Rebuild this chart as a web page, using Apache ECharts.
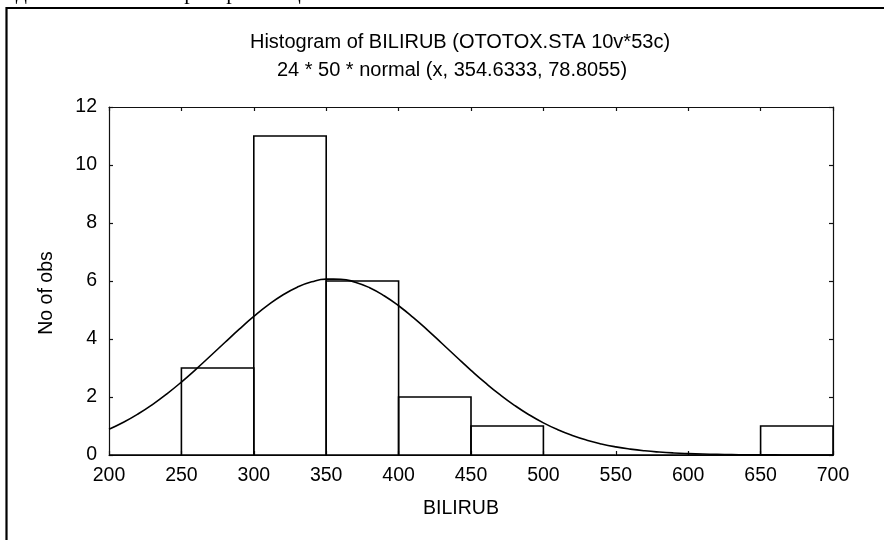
<!DOCTYPE html>
<html>
<head>
<meta charset="utf-8">
<title>Histogram of BILIRUB</title>
<script src="https://cdn.jsdelivr.net/npm/echarts@6/dist/echarts.min.js"></script>
<style>
  html, body { margin: 0; padding: 0; background: #fff; }
  #chart { width: 884px; height: 540px; }
</style>
</head>
<body>
<div id="chart"></div>
<script>
// Histogram bins (lower edges, width 50) and observed counts
const binStarts = [200, 250, 300, 350, 400, 450, 500, 550, 600, 650];
const binWidth = 50;
const counts = [0, 3, 11, 6, 2, 1, 0, 0, 0, 1];

// Expected normal curve 24 * 50 * normal(x, 354.6333, 78.8055), sampled every 10 units
const curveX = [200, 210, 220, 230, 240, 250, 260, 270, 280, 290,
                300, 310, 320, 330, 340, 350, 360, 370, 380, 390,
                400, 410, 420, 430, 440, 450, 460, 470, 480, 490,
                500, 510, 520, 530, 540, 550, 560, 570, 580, 590,
                600, 610, 620, 630, 640, 650, 660, 670, 680, 690, 700];
const curveY = [0.886, 1.127, 1.412, 1.740, 2.109, 2.516, 2.954, 3.413, 3.879, 4.340,
                4.777, 5.175, 5.516, 5.785, 5.971, 6.064, 6.061, 5.960, 5.768, 5.493,
                5.147, 4.746, 4.307, 3.845, 3.379, 2.921, 2.485, 2.080, 1.714, 1.389,
                1.108, 0.870, 0.672, 0.511, 0.382, 0.281, 0.204, 0.145, 0.102, 0.070,
                0.048, 0.032, 0.021, 0.0136, 0.0086, 0.0054, 0.0033, 0.0020, 0.0012, 0.0007, 0.0004];

// Axis ticks
const xTicks = [200, 250, 300, 350, 400, 450, 500, 550, 600, 650, 700];
const yTicks = [0, 2, 4, 6, 8, 10, 12];

const titleLine1 = 'Histogram of BILIRUB (OTOTOX.STA 10v*53c)';
const titleLine2 = '24 * 50 * normal (x, 354.6333, 78.8055)';
const xName = 'BILIRUB';
const yName = 'No of obs';
const pageText = 'ведення обмежень критеріалізації';

const FONT = '"Liberation Sans", Arial, sans-serif';
const INK = '#000';

const chart = echarts.init(document.getElementById('chart'), null, { renderer: 'canvas' });

const frameAxis = (extra) => Object.assign({
  axisLine: { show: true, onZero: false, lineStyle: { color: '#111', width: 1.2 } },
  axisTick: { show: true, inside: true, length: 4, lineStyle: { color: '#111', width: 1.2 } },
  splitLine: { show: false }
}, extra);

const option = {
  animation: false,
  backgroundColor: '#fff',
  grid: { left: 109, right: 51, top: 107, bottom: 85, containLabel: false },
  xAxis: [
    frameAxis({
      type: 'value', position: 'bottom',
      min: xTicks[0], max: xTicks[xTicks.length - 1], interval: 50,
      axisLabel: { color: INK, fontFamily: FONT, fontSize: 19.5, margin: 11 }
    }),
    frameAxis({
      type: 'value', position: 'top',
      min: xTicks[0], max: xTicks[xTicks.length - 1], interval: 50,
      axisLabel: { show: false }
    })
  ],
  yAxis: [
    frameAxis({
      type: 'value', position: 'left',
      min: yTicks[0], max: yTicks[yTicks.length - 1], interval: 2,
      axisLabel: { color: INK, fontFamily: FONT, fontSize: 19.5, margin: 12 }
    }),
    frameAxis({
      type: 'value', position: 'right',
      min: yTicks[0], max: yTicks[yTicks.length - 1], interval: 2,
      axisLabel: { show: false }
    })
  ],
  series: [
    {
      type: 'custom',
      xAxisIndex: 0, yAxisIndex: 0,
      data: binStarts.map((s, i) => [s, s + binWidth, counts[i]]),
      encode: { x: [0, 1], y: 2 },
      renderItem: function (params, api) {
        const p0 = api.coord([api.value(0), api.value(2)]);
        const p1 = api.coord([api.value(1), 0]);
        return {
          type: 'rect',
          shape: { x: p0[0], y: p0[1], width: p1[0] - p0[0], height: p1[1] - p0[1] },
          style: { fill: 'rgba(255,255,255,0)', stroke: INK, lineWidth: 1.6 }
        };
      },
      z: 2
    },
    {
      type: 'line',
      xAxisIndex: 0, yAxisIndex: 0,
      data: curveX.map((x, i) => [x, curveY[i]]),
      showSymbol: false,
      smooth: true,
      lineStyle: { color: INK, width: 1.6 },
      z: 3
    }
  ],
  graphic: [
    {
      type: 'rect', silent: true, z: 0,
      shape: { x: 6.5, y: 8, width: 900, height: 560 },
      style: { fill: 'none', stroke: INK, lineWidth: 2.2 }
    },
    {
      type: 'text', silent: true,
      x: -4, y: 4,
      style: {
        text: pageText, fill: INK, font: '22px "Liberation Serif", "Times New Roman", serif',
        textAlign: 'left', textVerticalAlign: 'bottom'
      }
    },
    {
      type: 'text', silent: true,
      x: 460, y: 42,
      style: { text: titleLine1, fill: INK, font: '20px ' + FONT, textAlign: 'center', textVerticalAlign: 'middle' }
    },
    {
      type: 'text', silent: true,
      x: 452, y: 70,
      style: { text: titleLine2, fill: INK, font: '20px ' + FONT, textAlign: 'center', textVerticalAlign: 'middle' }
    },
    {
      type: 'text', silent: true,
      x: 461, y: 509,
      style: { text: xName, fill: INK, font: '19.5px ' + FONT, textAlign: 'center', textVerticalAlign: 'middle' }
    },
    {
      type: 'text', silent: true,
      x: 47, y: 293, rotation: Math.PI / 2,
      style: { text: yName, fill: INK, font: '19.5px ' + FONT, textAlign: 'center', textVerticalAlign: 'middle' }
    }
  ]
};

chart.setOption(option);
</script>
</body>
</html>
